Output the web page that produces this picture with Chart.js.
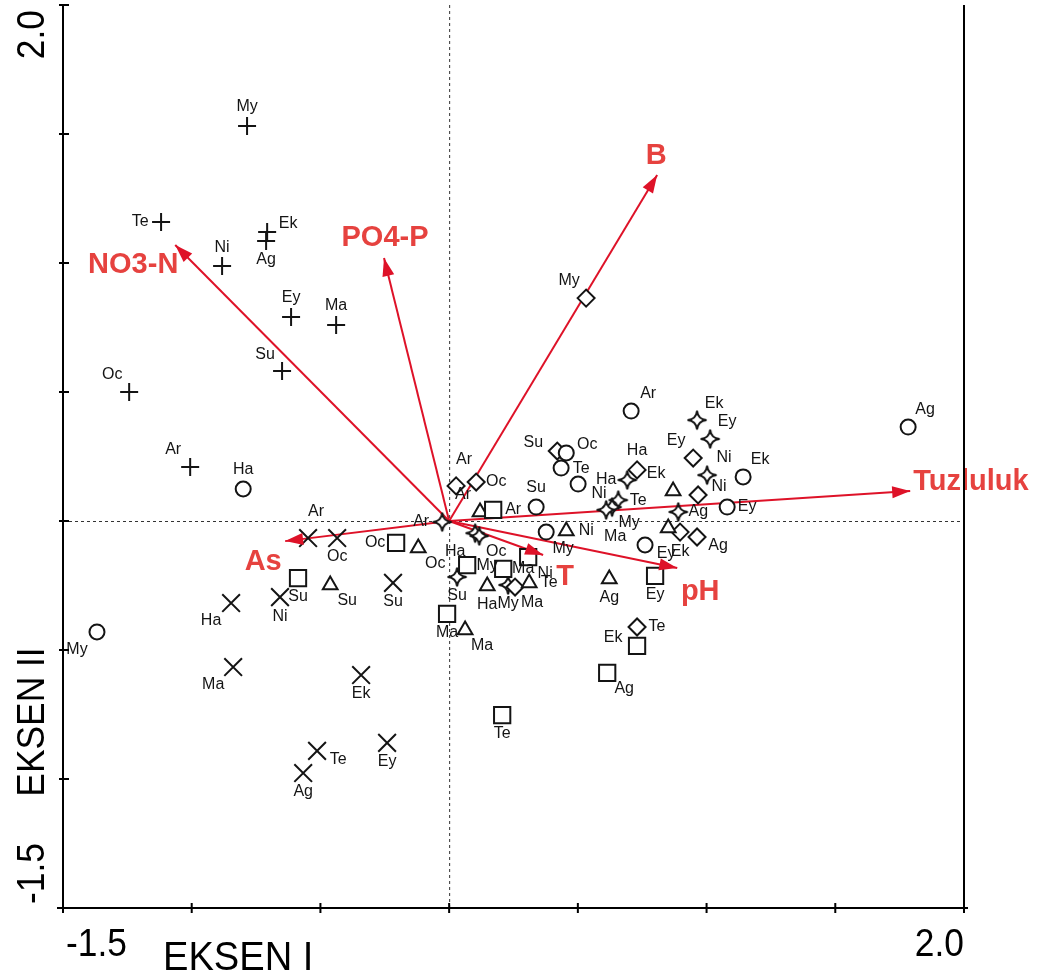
<!DOCTYPE html>
<html>
<head>
<meta charset="utf-8">
<script src="https://cdn.jsdelivr.net/npm/chart.js@4.4.1/dist/chart.umd.min.js"></script>
<style>
  body { margin: 0; background: #fff; }
</style>
</head>
<body>
<canvas id="myChart" width="1041" height="976"></canvas>
<script>
// sample scores, one set of arrays per station group (marker)
const plusSites = ['My', 'Te', 'Ek', 'Ag', 'Ni', 'Ey', 'Ma', 'Su', 'Oc', 'Ar'];
const plusX = [-0.785, -1.119, -0.707, -0.711, -0.882, -0.614, -0.439, -0.649, -1.243, -1.006];
const plusY = [1.531, 1.159, 1.120, 1.085, 0.988, 0.791, 0.760, 0.581, 0.500, 0.209];

const crossSites = ['Ar', 'Oc', 'Ha', 'Ni', 'Su', 'Ma', 'Ek', 'Te', 'Ey', 'Ag'];
const crossX = [-0.548, -0.435, -0.847, -0.657, -0.218, -0.839, -0.342, -0.513, -0.241, -0.567];
const crossY = [-0.066, -0.066, -0.318, -0.295, -0.240, -0.566, -0.597, -0.891, -0.860, -0.977];

const circleSites = ['Ha', 'My', 'Ar', 'Ag', 'Ek', 'Ey', 'Oc', 'Te', 'Ni', 'Su', 'My', 'Ey'];
const circleX = [-0.800, -1.368, 0.707, 1.783, 1.142, 1.080, 0.455, 0.435, 0.501, 0.338, 0.377, 0.761];
const circleY = [0.124, -0.430, 0.426, 0.364, 0.171, 0.054, 0.264, 0.205, 0.143, 0.054, -0.043, -0.093];

const squareSites = ['Oc', 'Su', 'Ma', 'Ar', 'My', 'Ma', 'Ni', 'Ey', 'Ek', 'Ag', 'Te'];
const squareX = [-0.206, -0.587, -0.008, 0.171, 0.070, 0.210, 0.307, 0.800, 0.730, 0.614, 0.206];
const squareY = [-0.085, -0.221, -0.360, 0.043, -0.171, -0.186, -0.140, -0.213, -0.484, -0.589, -0.752];

const triSites = ['Ar', 'Ni', 'Ha', 'Te', 'Su', 'Oc', 'Ma', 'Ag', 'Ek', ''];
const triX = [0.120, 0.455, 0.148, 0.311, -0.462, -0.120, 0.062, 0.622, 0.870, 0.851];
const triY = [0.035, -0.039, -0.252, -0.240, -0.248, -0.105, -0.422, -0.225, 0.116, -0.027];

const diamondSites = ['My', 'Ar', 'Oc', 'Su', 'Ha', 'Ey', 'Ni', 'Ag', 'Ek', 'Te', 'Ma'];
const diamondX = [0.532, 0.027, 0.105, 0.420, 0.730, 0.948, 0.967, 0.963, 0.897, 0.730, 0.256];
const diamondY = [0.864, 0.136, 0.151, 0.271, 0.198, 0.244, 0.101, -0.062, -0.043, -0.411, -0.256];

const starSites = ['Ar', 'Ha', 'Oc', 'Su', 'Ha', 'Te', 'My', 'Ma', 'Ek', 'Ey', 'Ni', 'Ag', 'My'];
const starX = [-0.027, 0.101, 0.117, 0.031, 0.692, 0.657, 0.633, 0.610, 0.963, 1.014, 1.002, 0.890, 0.229];
const starY = [-0.004, -0.047, -0.058, -0.217, 0.159, 0.081, 0.054, 0.043, 0.391, 0.318, 0.178, 0.035, -0.248];

// environmental variables (biplot arrows)
const envNames = ['NO3-N', 'PO4-P', 'B', 'Tuzluluk', 'pH', 'T', 'As'];
const envX = [-1.064, -0.253, 0.808, 1.791, 0.886, 0.365, -0.637];
const envY = [1.070, 1.019, 1.341, 0.116, -0.182, -0.132, -0.078];

const axisTicks = [-1.5, -1.0, -0.5, 0, 0.5, 1.0, 1.5, 2.0];

// where each label sits around its marker (layout only)
const plusLab = ['n', 'w', 'en', 's', 'n', 'n', 'n', 'nw', 'nw', 'nw'];
const crossLab = ['N2', 's', 'sw', 's', 's', 'sw', 's', 'es', 's', 's'];
const circleLab = ['n', 'sw', 'ne', 'ne', 'ne', 'e', 'en', 'e', 'es', 'n', 'se', 'es'];
const squareLab = ['w', 's', 's', 'e', 'e', 'e', 'se', 's', 'wn', 'se', 's'];
const triLab = ['nw', 'e', 's', 'e', 'se', 'se', 'se', 's', 'nw', 's'];
const diamondLab = ['nw', 'N2', 'e', 'wn', 'n', 'nw', 'en', 'es', 's', 'e', 'se'];
const starLab = ['w', 'sw', 'se', 's', 'w', 'e', 'se', 'S2', 'ne', 'ne', 'ne', 'e', 's'];
const envLab = [[-42, 20, 'center'], [1, -20, 'center'], [-1, -19, 'center'], [3, -9, 'left'], [23, 24, 'center'], [22, 22, 'center'], [-22, 21, 'center']];

const offsets = {
    n: [0, -19], s: [0, 19], e: [20, 0], w: [-21, 0],
    ne: [17, -17], nw: [-17, -17], se: [17, 16], sw: [-20, 18],
    en: [21, -8], es: [21, 9], wn: [-24, -8], N2: [8, -26], S2: [9, 27]
};

const arrowRed = '#de1228';
const textRed = '#e6423f';
const ink = '#141414';

function makeStar() {
    const c = document.createElement('canvas');
    c.width = 24;
    c.height = 24;
    const g = c.getContext('2d');
    const R = 9.5, k = 0.8;
    const tips = [[12, 12 - R], [12 + R, 12], [12, 12 + R], [12 - R, 12]];
    const ctrl = [[12 + k, 12 - k], [12 + k, 12 + k], [12 - k, 12 + k], [12 - k, 12 - k]];
    g.beginPath();
    g.moveTo(tips[0][0], tips[0][1]);
    for (let i = 0; i < 4; i++) {
        const nx = tips[(i + 1) % 4];
        g.quadraticCurveTo(ctrl[i][0], ctrl[i][1], nx[0], nx[1]);
    }
    g.closePath();
    g.fillStyle = '#fff';
    g.fill();
    g.lineWidth = 2;
    g.strokeStyle = ink;
    g.stroke();
    return c;
}

const groups = [
    { sites: plusSites, xs: plusX, ys: plusY, lab: plusLab, style: 'cross', radius: 9 },
    { sites: crossSites, xs: crossX, ys: crossY, lab: crossLab, style: 'crossRot', radius: 12.5 },
    { sites: circleSites, xs: circleX, ys: circleY, lab: circleLab, style: 'circle', radius: 7.5 },
    { sites: squareSites, xs: squareX, ys: squareY, lab: squareLab, style: 'rect', radius: 11.5 },
    { sites: triSites, xs: triX, ys: triY, lab: triLab, style: 'triangle', radius: 8.5 },
    { sites: diamondSites, xs: diamondX, ys: diamondY, lab: diamondLab, style: 'rectRot', radius: 8.5 },
    { sites: starSites, xs: starX, ys: starY, lab: starLab, style: makeStar(), radius: 10 }
];

const pointSets = groups.map(g => ({
    type: 'scatter',
    data: g.xs.map((x, i) => ({ x: x, y: g.ys[i] })),
    pointStyle: g.style,
    pointRadius: g.radius,
    pointBorderWidth: 2,
    pointBorderColor: ink,
    pointBackgroundColor: '#fff',
    order: 1
}));

const arrowSets = envNames.map((n, i) => ({
    type: 'line',
    data: [{ x: 0, y: 0 }, { x: envX[i], y: envY[i] }],
    borderColor: arrowRed,
    borderWidth: 2,
    pointRadius: 0,
    fill: false,
    order: 2
}));

function drawText(ctx, text, x, y, align, sx, rot) {
    ctx.save();
    ctx.translate(x, y);
    if (rot) ctx.rotate(-Math.PI / 2);
    ctx.scale(sx, 1);
    ctx.textAlign = align;
    ctx.fillText(text, 0, 0);
    ctx.restore();
}

const decor = {
    id: 'decor',
    beforeDatasetsDraw(chart) {
        const ctx = chart.ctx;
        const a = chart.chartArea;
        const x0 = chart.scales.x.getPixelForValue(0);
        const y0 = chart.scales.y.getPixelForValue(0);
        ctx.save();
        ctx.strokeStyle = '#333';
        ctx.lineWidth = 1;
        ctx.setLineDash([3, 3]);
        ctx.beginPath();
        ctx.moveTo(x0 + 0.5, a.top);
        ctx.lineTo(x0 + 0.5, a.bottom);
        ctx.moveTo(a.left, y0 + 0.5);
        ctx.lineTo(a.right, y0 + 0.5);
        ctx.stroke();
        ctx.restore();
    },
    afterDatasetsDraw(chart) {
        const ctx = chart.ctx;
        const a = chart.chartArea;
        const xs = chart.scales.x;
        const ys = chart.scales.y;
        const ox = xs.getPixelForValue(0);
        const oy = ys.getPixelForValue(0);

        // arrow heads
        ctx.save();
        ctx.fillStyle = arrowRed;
        envNames.forEach((n, i) => {
            const tx = xs.getPixelForValue(envX[i]);
            const ty = ys.getPixelForValue(envY[i]);
            const ang = Math.atan2(ty - oy, tx - ox);
            const L = 18, W = 6;
            ctx.beginPath();
            ctx.moveTo(tx, ty);
            ctx.lineTo(tx - L * Math.cos(ang) + W * Math.sin(ang), ty - L * Math.sin(ang) - W * Math.cos(ang));
            ctx.lineTo(tx - L * Math.cos(ang) - W * Math.sin(ang), ty - L * Math.sin(ang) + W * Math.cos(ang));
            ctx.closePath();
            ctx.fill();
        });

        // arrow names
        ctx.fillStyle = textRed;
        ctx.font = 'bold 29px "Liberation Sans", Arial, sans-serif';
        ctx.textBaseline = 'middle';
        envNames.forEach((n, i) => {
            const tx = xs.getPixelForValue(envX[i]);
            const ty = ys.getPixelForValue(envY[i]);
            ctx.textAlign = envLab[i][2];
            ctx.fillText(n, tx + envLab[i][0], ty + envLab[i][1]);
        });

        // station labels
        ctx.fillStyle = ink;
        ctx.font = '16px "Liberation Sans", Arial, sans-serif';
        ctx.textAlign = 'center';
        groups.forEach(g => {
            g.sites.forEach((s, i) => {
                if (!s) return;
                const px = xs.getPixelForValue(g.xs[i]);
                const py = ys.getPixelForValue(g.ys[i]);
                const off = offsets[g.lab[i]];
                ctx.fillText(s, px + off[0], py + off[1]);
            });
        });

        // frame and ticks
        ctx.strokeStyle = '#000';
        ctx.lineWidth = 2;
        ctx.beginPath();
        ctx.moveTo(a.left, a.top);
        ctx.lineTo(a.left, a.bottom + 4);
        ctx.moveTo(a.left - 6, a.bottom);
        ctx.lineTo(a.right + 4, a.bottom);
        ctx.moveTo(a.right, a.top);
        ctx.lineTo(a.right, a.bottom + 4);
        axisTicks.forEach(v => {
            const px = xs.getPixelForValue(v);
            ctx.moveTo(px, a.bottom - 5);
            ctx.lineTo(px, a.bottom + 5);
            const py = ys.getPixelForValue(v);
            ctx.moveTo(a.left - 4, py);
            ctx.lineTo(a.left + 6, py);
        });
        ctx.stroke();

        // axis texts
        ctx.fillStyle = '#000';
        ctx.font = '38px "Liberation Sans", Arial, sans-serif';
        ctx.textBaseline = 'alphabetic';
        const first = axisTicks[0].toFixed(1);
        const last = axisTicks[axisTicks.length - 1].toFixed(1);
        drawText(ctx, first, a.left + 3, 956, 'left', 0.93, false);
        drawText(ctx, last, a.right, 956, 'right', 0.93, false);
        ctx.font = '41px "Liberation Sans", Arial, sans-serif';
        drawText(ctx, 'EKSEN I', 163, 970, 'left', 0.93, false);
        ctx.font = '38px "Liberation Sans", Arial, sans-serif';
        drawText(ctx, last, 44, 10, 'right', 0.93, true);
        drawText(ctx, first, 44, 904, 'left', 0.93, true);
        drawText(ctx, 'EKSEN II', 44, 722, 'center', 0.93, true);
        ctx.restore();
    }
};

const ctx = document.getElementById('myChart').getContext('2d');
const myChart = new Chart(ctx, {
    type: 'scatter',
    data: { datasets: pointSets.concat(arrowSets) },
    options: {
        responsive: false,
        animation: false,
        devicePixelRatio: 1,
        events: [],
        layout: { autoPadding: false, padding: { left: 63, right: 77, top: 5, bottom: 68 } },
        plugins: { legend: { display: false }, tooltip: { enabled: false } },
        scales: {
            x: { type: 'linear', display: false, min: -1.5, max: 2.0 },
            y: { type: 'linear', display: false, min: -1.5, max: 2.0 }
        }
    },
    plugins: [decor]
});
</script>
</body>
</html>
